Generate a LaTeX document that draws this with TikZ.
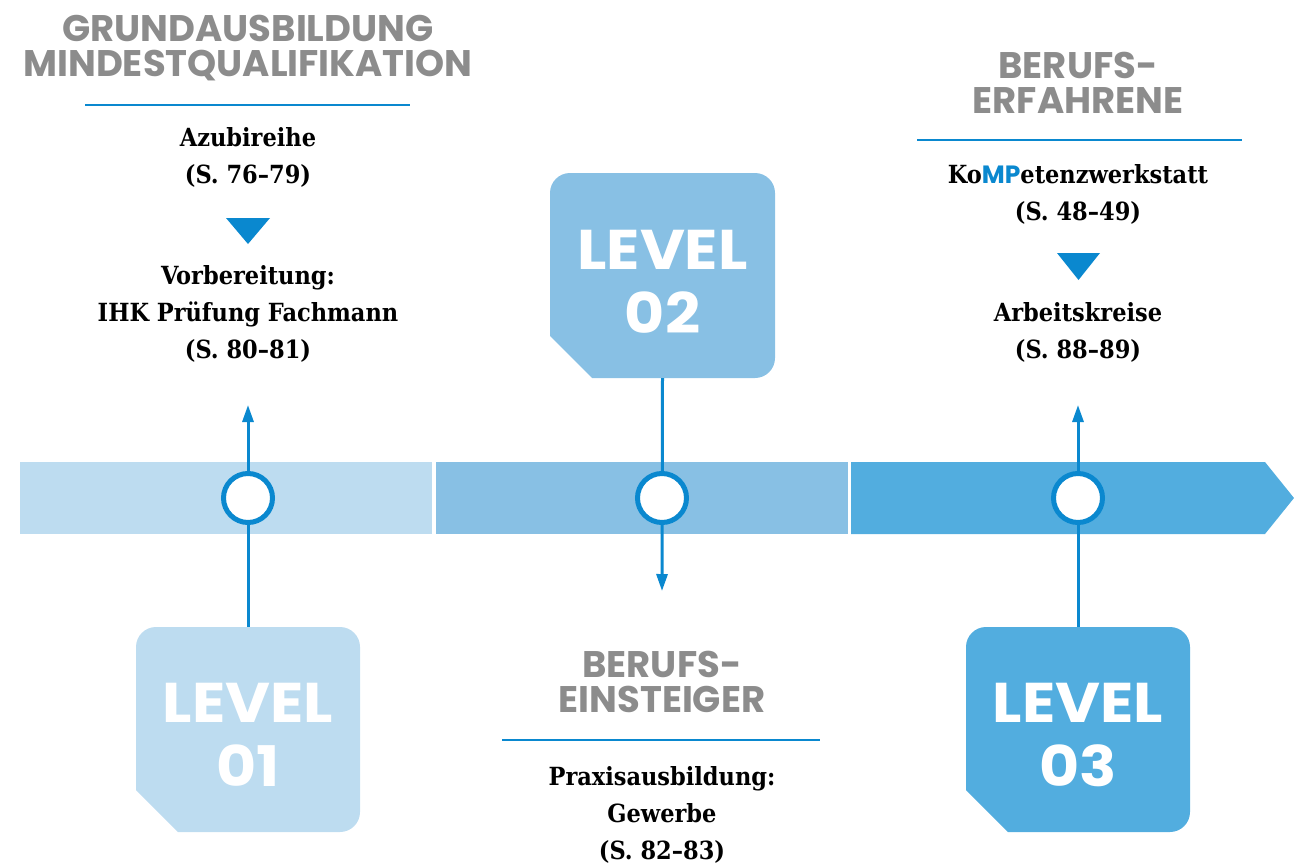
\documentclass[tikz,border=0pt]{standalone}
\usepackage{fontspec}
\setmainfont{DejaVu Serif Condensed}
\newfontfamily\headfont{Poppins}
\newfontfamily\lvlfont{Poppins}[FakeStretch=1.1]
\usetikzlibrary{arrows.meta}
\definecolor{barA}{HTML}{BDDCF0}
\definecolor{barB}{HTML}{88C0E4}
\definecolor{barC}{HTML}{52ADDF}
\definecolor{accent}{HTML}{0A88CF}
\definecolor{headgray}{HTML}{8C8C8C}
\tikzset{
  heading/.style={font=\headfont\bfseries\fontsize{37}{36}\selectfont, text=headgray, align=center, inner sep=0pt},
  body/.style={font=\bfseries\fontsize{25}{37}\selectfont, text=black, align=center, inner sep=0pt},
  lvltext/.style={font=\lvlfont\bfseries\fontsize{56}{64}\selectfont, text=white, align=center, inner sep=0pt, minimum width=224pt, minimum height=205pt},
  rule/.style={draw=accent, line width=2pt},
  ring/.style={circle, draw=accent, fill=white, line width=5pt, minimum size=49pt, inner sep=0pt},
  conn/.style={draw=accent, line width=3pt},
  tip/.style={-{Triangle[width=11pt,length=17pt]}},
  marker/.style={fill=accent},
}
\newcommand{\lvlbox}[5]{% x1 y1 x2 y2 color
  \fill[#5] (#1,#2+20) arc[start angle=180,end angle=270,radius=20] -- (#3-20,#2) arc[start angle=270,end angle=360,radius=20] -- (#3,#4-20) arc[start angle=0,end angle=90,radius=20] -- (#1+42,#4) -- (#1,#4-42) -- cycle;
}
\begin{document}
\begin{tikzpicture}[x=1pt,y=-1pt]
\useasboundingbox (0,0) rectangle (1294,865);
% bar
\fill[barA] (20,462) rectangle (432,534);
\fill[barB] (436,462) rectangle (848,534);
\fill[barC] (851,462) -- (1265,462) -- (1294,498) -- (1265,534) -- (851,534) -- cycle;
% level boxes
\lvlbox{136}{627}{360}{832}{barA}
\lvlbox{550}{173}{775}{378}{barB}
\lvlbox{966}{627}{1190}{832}{barC}
\node[lvltext] (lvl1) at (248,729.5) {};
\node[lvltext] (lvl2) at (662.5,275.5) {};
\node[lvltext] (lvl3) at (1078,729.5) {};
\node[lvltext, minimum width=0pt, minimum height=0pt] (l1) at (248,735) {LEVEL\\01};
\node[lvltext, minimum width=0pt, minimum height=0pt] (l2) at (662.5,282) {LEVEL\\02};
\node[lvltext, minimum width=0pt, minimum height=0pt] (l3) at (1078,735) {LEVEL\\03};
% arrow ends
\coordinate (e1) at (248,405);
\coordinate (e2) at (662,591);
\coordinate (e3) at (1078,405);
% connectors
\draw[conn] (lvl1.north) -- (248,498);
\draw[conn,tip] (248,498) -- (e1);
\draw[conn] (lvl3.north) -- (1078,498);
\draw[conn,tip] (1078,498) -- (e3);
\draw[conn,tip] (lvl2.south) -- (e2);
% rings
\node[ring] (c1) at (248,498) {};
\node[ring] (c2) at (662,498) {};
\node[ring] (c3) at (1078,498) {};
% left text
\node[heading] (h1) at (248,48) {GRUNDAUSBILDUNG\\[-1pt]MINDESTQUALIFIKATION};
\draw[rule] (85,105) -- (410,105);
\node[body] (t1) at (248,157) {Azubireihe\\(S.~76–79)};
\fill[marker] (226,218) -- (270,218) -- (248,244) -- cycle;
\node[body] (t2) at (248,314) {Vorbereitung:\\IHK Prüfung Fachmann\\(S.~80–81)};
% middle text
\node[heading] (h2) at (662,682) {BERUFS-\\[-1pt]EINSTEIGER};
\draw[rule] (502,740) -- (820,740);
\node[body] (t3) at (662,815) {Praxisausbildung:\\Gewerbe\\(S.~82–83)};
% right text
\node[heading] (h3) at (1078,83) {BERUFS-\\[-1pt]ERFAHRENE};
\draw[rule] (917,140) -- (1242,140);
\node[body] (t4) at (1078,194) {Ko{\headfont\color{accent}MP}etenzwerkstatt\\(S.~48–49)};
\fill[marker] (1057,253) -- (1100,253) -- (1078.5,280) -- cycle;
\node[body] (t5) at (1078,332) {Arbeitskreise\\(S.~88–89)};
\end{tikzpicture}
\end{document}
